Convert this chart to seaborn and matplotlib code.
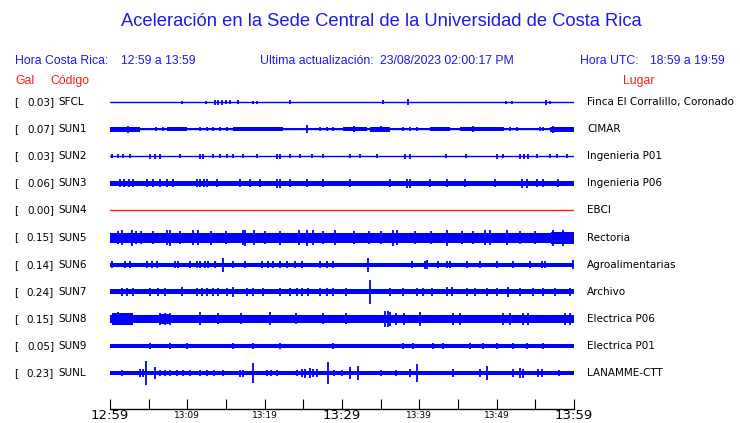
import pandas as pd
import seaborn as sns
import matplotlib.pyplot as plt
from matplotlib import transforms

# Stations, peak acceleration (Gal) and place names
stations = ["SFCL", "SUN1", "SUN2", "SUN3", "SUN4", "SUN5",
            "SUN6", "SUN7", "SUN8", "SUN9", "SUNL"]
gal = [0.03, 0.07, 0.03, 0.06, 0.00, 0.15, 0.14, 0.24, 0.15, 0.05, 0.23]
places = ["Finca El Corralillo, Coronado", "CIMAR", "Ingenieria P01",
          "Ingenieria P06", "EBCI", "Rectoria", "Agroalimentarias",
          "Archivo", "Electrica P06", "Electrica P01", "LANAMME-CTT"]

# time axis: minutes after 12:59
tick_minutes = list(range(0, 61, 5))
tick_labels = ["12:59", "", "13:09", "", "13:19", "", "13:29",
               "", "13:39", "", "13:49", "", "13:59"]
big_labels = ["12:59", "13:29", "13:59"]

# background noise level of each trace (relative amplitude)
noise_level = [0.5, 1.1, 0.5, 2.5, 0.5, 5.0, 2.1, 2.5, 4.3, 1.6, 2.2]

# stretches of stronger noise: (start minute, end minute, amplitude)
sun1_segments = [(0.0, 3.9, 2.5), (7.4, 10.0, 2.2), (15.9, 22.4, 2.2), (30.1, 33.2, 2.2),
                 (33.6, 36.2, 2.5), (41.4, 44.0, 2.2), (45.3, 50.8, 2.2), (56.9, 60.0, 2.6)]
sun5_segments = [(57.0, 60.0, 6.0)]
sun8_segments = [(0.3, 3.0, 5.8), (6.5, 7.8, 5.3)]

# bursts: (minute, amplitude)
sfcl_bursts = [(9.3, 1.5), (12.4, 1.5), (13.6, 2.5), (14.0, 2.5), (14.5, 2.5), (15.0, 2.0),
               (15.5, 2.0), (16.6, 2.0), (18.5, 1.5), (19.0, 1.5), (23.3, 2.0), (35.3, 2.0),
               (38.5, 3.0), (51.2, 1.5), (52.0, 1.5), (56.4, 2.5), (56.9, 1.5)]
sun1_bursts = [(2.3, 3.5), (25.5, 4.0), (57.3, 3.5), (6.0, 2.0), (6.9, 2.0), (11.6, 2.0),
               (12.5, 2.0), (13.3, 2.0), (14.2, 2.0), (15.1, 2.0), (27.2, 2.0), (28.1, 2.0),
               (28.8, 2.0), (37.9, 2.0), (38.8, 2.0), (39.7, 2.0), (50.8, 2.0), (51.7, 2.0),
               (52.6, 2.0), (55.6, 2.0), (56.0, 2.0), (31.5, 3.0), (35.0, 3.0), (47.0, 3.0)]
sun2_bursts = [(0.3, 1.8), (1.0, 1.8), (1.7, 1.8), (2.6, 2.0), (5.2, 2.5), (5.8, 2.5),
               (6.5, 2.5), (9.1, 1.8), (11.6, 2.5), (12.0, 2.5), (13.3, 1.8), (14.2, 1.8),
               (15.1, 1.8), (15.9, 1.8), (17.2, 1.8), (19.0, 1.8), (21.6, 2.5), (22.0, 2.5),
               (23.3, 1.8), (24.6, 1.8), (26.1, 1.8), (27.5, 1.8), (31.0, 2.0), (32.3, 1.8),
               (34.5, 1.8), (38.2, 2.5), (38.8, 2.5), (43.5, 1.8), (46.0, 1.8), (50.0, 2.5),
               (50.8, 1.8), (53.0, 2.5), (53.5, 2.5), (54.0, 2.5), (55.2, 2.0), (56.9, 1.8),
               (57.8, 1.8), (59.1, 1.8)]
sun3_bursts = [(1.3, 4.0), (1.8, 4.0), (2.4, 4.0), (3.0, 4.0), (4.8, 4.0), (5.6, 4.0),
               (6.5, 4.0), (7.4, 4.0), (8.2, 4.0), (11.2, 4.0), (11.7, 4.0), (12.2, 4.0),
               (12.5, 4.0), (13.8, 4.0), (16.8, 4.0), (18.1, 4.0), (19.4, 4.0), (21.6, 4.5),
               (22.0, 4.5), (23.3, 4.0), (25.5, 4.0), (27.5, 4.0), (31.0, 4.0), (36.2, 4.0),
               (38.4, 4.5), (38.8, 4.5), (41.4, 4.0), (43.6, 4.0), (45.9, 4.0), (49.8, 4.0),
               (53.3, 4.5), (53.9, 4.5), (55.2, 4.0), (56.0, 4.0), (57.9, 4.0)]
sun4_bursts = []
sun5_bursts = [(1.0, 6.5), (1.5, 7.5), (2.8, 8.0), (3.4, 6.5), (4.0, 6.5), (5.5, 6.5),
               (7.4, 7.5), (7.8, 8.0), (9.0, 6.5), (10.7, 7.5), (11.4, 7.5), (13.0, 7.0),
               (15.0, 6.5), (17.2, 7.5), (17.5, 8.0), (18.6, 7.5), (20.0, 6.5), (22.0, 7.0),
               (24.4, 7.5), (25.5, 8.0), (26.3, 7.5), (27.5, 6.5), (29.1, 7.5), (31.5, 6.5),
               (33.5, 6.5), (35.0, 6.5), (36.6, 8.0), (37.1, 7.5), (39.5, 6.5), (41.5, 6.5),
               (43.6, 8.0), (45.5, 6.5), (47.0, 6.5), (48.5, 7.5), (49.1, 7.5), (51.3, 7.5),
               (53.0, 6.5), (55.0, 6.5), (57.3, 8.0), (58.6, 8.0)]
sun6_bursts = [(14.6, 7.0), (33.4, 7.0), (41.0, 4.5), (0.3, 3.5), (1.9, 3.5), (2.6, 3.5),
               (4.8, 3.5), (5.4, 3.5), (6.1, 3.5), (8.4, 3.5), (8.8, 3.5), (10.4, 3.5),
               (11.3, 3.5), (11.6, 3.5), (12.3, 3.5), (12.7, 3.5), (13.6, 3.5), (15.9, 3.5),
               (17.5, 3.5), (19.7, 3.5), (20.4, 3.5), (21.1, 3.5), (22.0, 3.5), (22.9, 3.5),
               (23.9, 3.5), (24.8, 3.5), (27.2, 3.5), (28.1, 3.5), (28.8, 3.5), (39.1, 3.5),
               (40.7, 4.0), (42.4, 3.5), (43.6, 3.5), (44.0, 3.5), (46.2, 3.5), (47.8, 3.5),
               (50.0, 3.5), (52.1, 3.5), (54.3, 3.5), (55.9, 3.5), (56.3, 3.5), (59.9, 4.5)]
sun7_bursts = [(33.6, 12.0), (9.3, 4.5), (15.9, 5.0), (51.5, 5.0), (1.6, 4.0), (2.2, 4.0),
               (3.0, 4.0), (5.2, 4.0), (6.2, 4.0), (7.1, 4.0), (11.2, 4.0), (11.9, 4.0),
               (12.5, 4.0), (13.3, 4.0), (14.0, 4.0), (15.1, 4.0), (17.7, 4.0), (18.5, 4.0),
               (19.8, 4.0), (22.0, 4.0), (23.3, 4.0), (24.2, 4.0), (24.8, 4.0), (25.6, 4.0),
               (27.2, 4.0), (28.1, 4.0), (28.8, 4.0), (30.5, 4.0), (36.2, 4.0), (37.9, 4.0),
               (39.7, 4.0), (40.5, 4.0), (41.6, 4.0), (43.6, 4.5), (44.2, 4.5), (46.2, 4.0),
               (47.2, 4.0), (48.8, 4.0), (50.0, 4.0), (53.0, 4.0), (54.7, 4.0), (56.0, 4.0),
               (57.5, 4.0), (59.5, 4.0)]
sun8_bursts = [(1.0, 6.5), (2.2, 6.0), (6.5, 6.0), (7.1, 6.0), (7.8, 6.0), (11.6, 6.5),
               (14.0, 5.5), (17.0, 5.5), (20.7, 6.5), (24.0, 5.5), (27.5, 5.5), (30.5, 5.5),
               (35.5, 8.0), (35.9, 8.0), (36.2, 7.0), (37.0, 6.0), (38.0, 6.0), (40.1, 7.0),
               (44.4, 6.0), (45.3, 6.0), (50.8, 6.0), (51.7, 6.0), (53.4, 6.0), (54.0, 6.0),
               (58.9, 6.0), (59.5, 6.0)]
sun9_bursts = [(5.2, 3.2), (7.8, 2.8), (10.0, 2.8), (15.9, 2.8), (18.5, 2.8), (22.0, 3.2),
               (28.8, 2.8), (37.9, 2.8), (39.2, 2.8), (41.8, 2.8), (43.1, 2.8), (46.6, 2.8),
               (48.2, 2.8), (50.0, 2.8), (52.1, 2.8), (53.9, 2.8), (56.0, 2.8)]
sunl_bursts = [(1.6, 3.0), (3.9, 4.0), (4.3, 4.0), (4.7, 12.0), (5.8, 6.0), (6.5, 3.0),
               (7.1, 3.0), (7.8, 3.0), (8.7, 3.0), (9.5, 3.0), (10.3, 3.0), (11.6, 3.0),
               (12.5, 3.0), (13.5, 3.0), (14.6, 3.0), (16.8, 3.5), (17.2, 3.5), (18.5, 10.0),
               (20.3, 3.0), (20.8, 3.0), (21.6, 3.0), (24.2, 3.0), (24.8, 4.0), (25.2, 4.5),
               (25.8, 5.0), (26.3, 4.0), (26.8, 4.0), (28.2, 11.0), (29.0, 2.8), (30.0, 2.8),
               (31.0, 6.0), (32.1, 7.0), (35.0, 3.0), (37.0, 3.0), (38.8, 4.0), (39.7, 9.0),
               (44.4, 4.0), (47.9, 4.0), (48.8, 7.0), (52.1, 4.0), (53.0, 5.0), (53.4, 4.5),
               (55.3, 4.0), (55.9, 4.0), (58.0, 3.0)]

segments = [[], sun1_segments, [], [], [], sun5_segments, [], [], sun8_segments, [], []]
bursts = [sfcl_bursts, sun1_bursts, sun2_bursts, sun3_bursts, sun4_bursts, sun5_bursts,
          sun6_bursts, sun7_bursts, sun8_bursts, sun9_bursts, sunl_bursts]

BLUE = "#0000ff"
TXT_BLUE = "#1a1af0"
RED = "#ff1a1a"
ROW = 27.1  # amplitude units per trace row

sns.set_style("white")
plt.rcParams["font.family"] = ["DejaVu Sans"]
plt.rcParams["text.color"] = "black"
plt.rcParams["xtick.color"] = "black"
plt.rcParams["xtick.labelcolor"] = "black"

fig = plt.figure(figsize=(7.4, 4.23), dpi=100)
W, H = 740, 423
ax = fig.add_axes([110 / W, 1 - 409 / H, 464 / W, (409 - 86) / H])
ax.set_facecolor("white")

colors = [RED if s == "SUN4" else BLUE for s in stations]

# centre lines through seaborn
base = pd.DataFrame({
    "minute": [0, 60] * len(stations),
    "row": [i for i in range(len(stations)) for _ in range(2)],
    "station": [s for s in stations for _ in range(2)],
})
sns.lineplot(data=base, x="minute", y="row", hue="station",
             palette=dict(zip(stations, colors)), legend=False,
             linewidth=1.0, ax=ax, estimator=None)

for i, st in enumerate(stations):
    c = colors[i]
    a = noise_level[i] / ROW
    if st != "SUN4":
        ax.fill_between([0, 60], i - a, i + a, color=c, lw=0)
    for t0, t1, amp in segments[i]:
        ax.fill_between([t0, t1], i - amp / ROW, i + amp / ROW, color=c, lw=0)
    if bursts[i]:
        ts = [b[0] for b in bursts[i]]
        amps = [b[1] / ROW for b in bursts[i]]
        ax.vlines(ts, [i - v for v in amps], [i + v for v in amps], color=c, lw=1.3)

ax.set_xlim(0, 60)
ax.set_ylim((409 - 102) / ROW, -(102 - 86) / ROW)
ax.set_yticks([])
ax.set_ylabel("")
ax.set_xlabel("")
for side in ["top", "left", "right"]:
    ax.spines[side].set_visible(False)
ax.spines["bottom"].set_color("black")
ax.spines["bottom"].set_linewidth(1.0)
ax.set_xticks(tick_minutes)
ax.set_xticklabels(tick_labels)
ax.tick_params(axis="x", bottom=True, direction="in", length=7.4, width=0.8,
               color="black", labelcolor="black", pad=5)
for lab in ax.get_xticklabels():
    lab.set_va("center")
    if lab.get_text() in big_labels:
        lab.set_fontsize(9.5)
    else:
        lab.set_fontsize(6.5)

# station labels
tr = transforms.blended_transform_factory(fig.transFigure, ax.transData)
for i, st in enumerate(stations):
    fig.text(14 / W, i, "[", transform=tr, fontsize=7.5, va="center", ha="left")
    fig.text(54 / W, i, f"{gal[i]:.2f}]", transform=tr, fontsize=7.5, va="center", ha="right")
    fig.text(58 / W, i, st, transform=tr, fontsize=7.5, va="center", ha="left")
    fig.text(587 / W, i, places[i], transform=tr, fontsize=7.5, va="center", ha="left")

# header
hfont = ["Liberation Sans", "DejaVu Sans"]
fig.text(381 / W, 1 - 22 / H, "Aceleración en la Sede Central de la Universidad de Costa Rica",
         ha="center", va="center", fontsize=13.2, color=TXT_BLUE, family=hfont)
hy = 1 - 61 / H
hs = 8.8
fig.text(15 / W, hy, "Hora Costa Rica:", fontsize=hs, color=TXT_BLUE, va="center", family=hfont)
fig.text(121 / W, hy, "12:59 a 13:59", fontsize=hs, color=TXT_BLUE, va="center", family=hfont)
fig.text(260 / W, hy, "Ultima actualización:", fontsize=hs, color=TXT_BLUE, va="center", family=hfont)
fig.text(380 / W, hy, "23/08/2023 02:00:17 PM", fontsize=hs, color=TXT_BLUE, va="center", family=hfont)
fig.text(580 / W, hy, "Hora UTC:", fontsize=hs, color=TXT_BLUE, va="center", family=hfont)
fig.text(650 / W, hy, "18:59 a 19:59", fontsize=hs, color=TXT_BLUE, va="center", family=hfont)
ry = 1 - 81 / H
fig.text(15 / W, ry, "Gal", fontsize=hs, color=RED, va="center", family=hfont)
fig.text(50 / W, ry, "Código", fontsize=hs, color=RED, va="center", family=hfont)
fig.text(623 / W, ry, "Lugar", fontsize=hs, color=RED, va="center", family=hfont)

fig.savefig("out.png", dpi=100, facecolor="white")
